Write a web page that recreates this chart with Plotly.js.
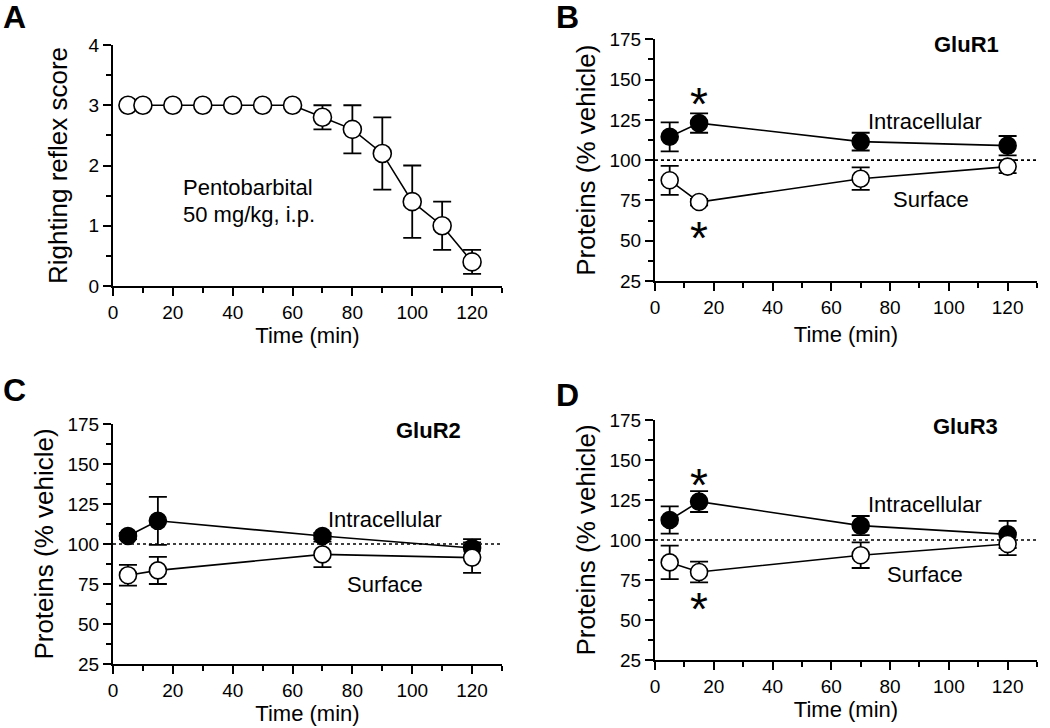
<!DOCTYPE html>
<html>
<head>
<meta charset="utf-8">
<script src="https://cdn.plot.ly/plotly-3.0.1.min.js"></script>
<style>html,body{margin:0;padding:0;background:#fff;}#chart{width:1050px;height:728px;}</style>
</head>
<body>
<div id="chart"></div>
<script>
// Panel A: righting reflex
const timeA = [5, 10, 20, 30, 40, 50, 60, 70, 80, 90, 100, 110, 120];
const scoreA = [3, 3, 3, 3, 3, 3, 3, 2.8, 2.6, 2.2, 1.4, 1.0, 0.4];
const scoreErrA = [0, 0, 0, 0, 0, 0, 0, 0.2, 0.4, 0.6, 0.6, 0.4, 0.2];

// Panels B-D: protein levels
const timeP = [5, 15, 70, 120];
const gluR1Intra = [114.5, 123, 111.5, 109];
const gluR1IntraErr = [9, 6, 5.5, 6];
const gluR1Surf = [87.5, 74, 88.5, 96];
const gluR1SurfErr = [9, 2, 7, 4];

const gluR2Intra = [105, 114.5, 105, 97.5];
const gluR2IntraErr = [2, 15, 2, 5.5];
const gluR2Surf = [80.5, 83.5, 93.5, 91.5];
const gluR2SurfErr = [6.5, 8.5, 8, 9.5];

const gluR3Intra = [112.5, 124, 109, 103.5];
const gluR3IntraErr = [8.5, 6.5, 6, 8.5];
const gluR3Surf = [86, 80, 90.5, 97.5];
const gluR3SurfErr = [10.5, 6.5, 8, 7];

const panelLabels = ['A', 'B', 'C', 'D'];
const receptorLabels = ['GluR1', 'GluR2', 'GluR3'];
const xTickVals = [0, 20, 40, 60, 80, 100, 120];

const FONT = 'Liberation Sans, Arial, Helvetica, sans-serif';

function lineTrace(x, y, err, xa, ya, filled, size) {
  return {
    x: x, y: y, xaxis: xa, yaxis: ya, type: 'scatter', mode: 'lines+markers',
    line: {color: '#000', width: 1.6},
    marker: {symbol: 'circle', size: size, color: filled ? '#000' : '#fff', line: {color: '#000', width: 1.6}},
    error_y: {type: 'data', array: err, visible: true, color: '#000', thickness: 1.8, width: 9},
    cliponaxis: false, showlegend: false, hoverinfo: 'skip'
  };
}

const data = [
  lineTrace(timeA, scoreA, scoreErrA, 'x', 'y', false, 18),
  lineTrace(timeP, gluR1Intra, gluR1IntraErr, 'x2', 'y2', true, 17),
  lineTrace(timeP, gluR1Surf, gluR1SurfErr, 'x2', 'y2', false, 17),
  lineTrace(timeP, gluR2Intra, gluR2IntraErr, 'x3', 'y3', true, 17),
  lineTrace(timeP, gluR2Surf, gluR2SurfErr, 'x3', 'y3', false, 17),
  lineTrace(timeP, gluR3Intra, gluR3IntraErr, 'x4', 'y4', true, 17),
  lineTrace(timeP, gluR3Surf, gluR3SurfErr, 'x4', 'y4', false, 17)
];

function xAxis(domain, anchor, standoff) {
  return {
    domain: domain, anchor: anchor, range: [0, 130],
    showline: true, linecolor: '#000', linewidth: 2, mirror: false,
    showgrid: false, zeroline: false,
    ticks: 'outside', ticklen: 8, tickwidth: 2, tickcolor: '#000',
    tickmode: 'array', tickvals: xTickVals,
    tickfont: {family: FONT, size: 19, color: '#000'},
    minor: {dtick: 10, tick0: 0, ticks: 'outside', ticklen: 5, tickwidth: 2, tickcolor: '#000', showgrid: false},
    title: {text: 'Time (min)', font: {family: FONT, size: 22, color: '#000'}, standoff: standoff},
    automargin: false, fixedrange: true
  };
}
function yAxis(domain, anchor, range, dtick, minorDtick, title, standoff) {
  return {
    domain: domain, anchor: anchor, range: range,
    showline: true, linecolor: '#000', linewidth: 2,
    showgrid: false, zeroline: false,
    ticks: 'outside', ticklen: 8, tickwidth: 2, tickcolor: '#000',
    tick0: range[0], dtick: dtick,
    tickfont: {family: FONT, size: 19, color: '#000'},
    minor: {dtick: minorDtick, tick0: range[0], ticks: 'outside', ticklen: 5, tickwidth: 2, tickcolor: '#000', showgrid: false},
    title: {text: title, font: {family: FONT, size: 26, color: '#000'}, standoff: standoff},
    automargin: false, fixedrange: true
  };
}

const xdomL = [113 / 1050, 502 / 1050];
const xdomR = [655 / 1050, 1037 / 1050];

const layout = {
  width: 1050, height: 728,
  margin: {l: 0, r: 0, t: 0, b: 0},
  paper_bgcolor: '#fff', plot_bgcolor: 'rgba(0,0,0,0)',
  font: {family: FONT, color: '#000'},
  showlegend: false,
  xaxis: xAxis(xdomL, 'y', 4),
  yaxis: yAxis([1 - 286 / 728, 1 - 45 / 728], 'x', [0, 4], 1, 0.5, 'Righting reflex score', 14),
  xaxis2: xAxis(xdomR, 'y2', 10),
  yaxis2: yAxis([1 - 281 / 728, 1 - 39.3 / 728], 'x2', [25, 175], 25, 12.5, 'Proteins (% vehicle)', 6),
  xaxis3: xAxis(xdomL, 'y3', 0),
  yaxis3: yAxis([1 - 664 / 728, 1 - 424 / 728], 'x3', [25, 175], 25, 12.5, 'Proteins (% vehicle)', 6),
  xaxis4: xAxis(xdomR, 'y4', 4),
  yaxis4: yAxis([1 - 660 / 728, 1 - 420 / 728], 'x4', [25, 175], 25, 12.5, 'Proteins (% vehicle)', 6),
  shapes: ['2', '3', '4'].map(n => ({
    type: 'line', xref: 'x' + n, yref: 'y' + n, x0: 0, x1: 130, y0: 100, y1: 100,
    line: {color: '#000', width: 1.6, dash: 'dot'}, layer: 'below'
  })),
  annotations: []
};

const ann = layout.annotations;
function txt(text, xref, yref, x, y, size, opts) {
  ann.push(Object.assign({text: text, xref: xref, yref: yref, x: x, y: y, showarrow: false,
    xanchor: 'center', yanchor: 'middle', font: {family: FONT, size: size, color: '#000'}}, opts || {}));
}
// Panel letters
txt('<b>' + panelLabels[0] + '</b>', 'paper', 'paper', 14 / 1050, 1 - 17 / 728, 32);
txt('<b>' + panelLabels[1] + '</b>', 'paper', 'paper', 567 / 1050, 1 - 17 / 728, 32);
txt('<b>' + panelLabels[2] + '</b>', 'paper', 'paper', 14 / 1050, 1 - 390 / 728, 32);
txt('<b>' + panelLabels[3] + '</b>', 'paper', 'paper', 567 / 1050, 1 - 395 / 728, 32);
// Panel A note
txt('Pentobarbital', 'x', 'y', 22.7, 1.63, 22, {xanchor: 'left'});
txt('50 mg/kg, i.p.', 'x', 'y', 22.7, 1.18, 22, {xanchor: 'left'});
// Receptor labels
txt('<b>' + receptorLabels[0] + '</b>', 'x2', 'y2', 106, 171.5, 22);
txt('<b>' + receptorLabels[1] + '</b>', 'x3', 'y3', 105.3, 171, 22);
txt('<b>' + receptorLabels[2] + '</b>', 'x4', 'y4', 105.5, 171, 22);
// Series labels
txt('Intracellular', 'x2', 'y2', 92, 124, 22);
txt('Surface', 'x2', 'y2', 94, 75.3, 22);
txt('Intracellular', 'x3', 'y3', 91, 115.6, 22);
txt('Surface', 'x3', 'y3', 91, 74.4, 22);
txt('Intracellular', 'x4', 'y4', 92, 122, 22);
txt('Surface', 'x4', 'y4', 92, 78.7, 22);
// Significance asterisks
txt('*', 'x2', 'y2', 15, 140.4, 46, {yshift: -8.5});
txt('*', 'x2', 'y2', 15, 57, 46, {yshift: -8.5});
txt('*', 'x4', 'y4', 15, 139.6, 46, {yshift: -8.5});
txt('*', 'x4', 'y4', 15, 62.5, 46, {yshift: -8.5});

Plotly.newPlot('chart', data, layout, {staticPlot: true, displayModeBar: false});
</script>
</body>
</html>
